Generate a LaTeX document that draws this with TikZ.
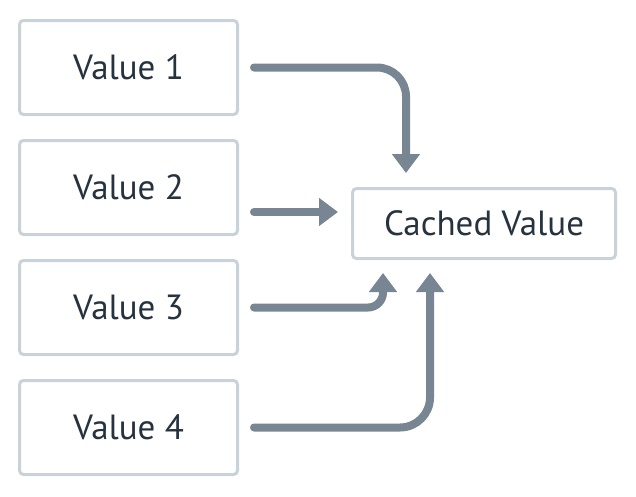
\documentclass[tikz,border=0pt]{standalone}
\usepackage{fontspec}
\setmainfont{PT Sans}
\usetikzlibrary{positioning,arrows.meta}
\definecolor{boxline}{HTML}{C9D1D9}
\definecolor{textcol}{HTML}{26333F}
\definecolor{arrowcol}{HTML}{788593}
\begin{document}
\begin{tikzpicture}[x=1pt,y=-1pt,
        value/.style={
            rectangle, line width=3pt, draw=boxline, rounded corners=4pt, text=textcol,
            minimum width=218pt, minimum height=94pt, font=\fontsize{35}{40}\selectfont
        },
        cached/.style={
            value, minimum width=263pt, minimum height=70pt
        },
        link/.style={
            line width=8pt, draw=arrowcol, line cap=round, -{Triangle[width=27pt,length=19pt]}
        },
        node distance=23pt,
    ]
        \useasboundingbox (0,0) rectangle (636,496);

        \node (value1) [value] at (128.5,67.5) {Value 1};
        \node (value2) [value,below=of value1] {Value 2};
        \node (value3) [value,below=of value2] {Value 3};
        \node (value4) [value,below=of value3] {Value 4};

        \node (cachedValue) [cached] at (484,223.5) {Cached Value};

        \draw[link,rounded corners=29pt] ([xshift=15pt]value1.east) -| ([xshift=55pt,yshift=14pt]cachedValue.north west);
        \draw[link] ([xshift=15pt,yshift=-24.5pt]value2.east) -- ([xshift=-13pt,yshift=11.5pt]cachedValue.west);
        \draw[link,rounded corners=15pt] ([xshift=15pt]value3.east) -| ([xshift=32pt,yshift=-13pt]cachedValue.south west);
        \draw[link,rounded corners=30pt] ([xshift=15pt]value4.east) -| ([xshift=79pt,yshift=-13pt]cachedValue.south west);

    \end{tikzpicture}
\end{document}
